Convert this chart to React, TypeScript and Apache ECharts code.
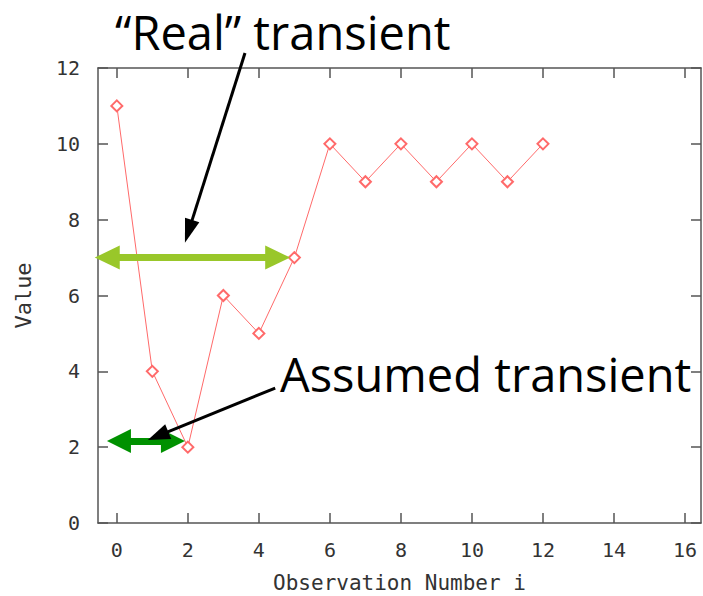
import React, { useEffect, useRef } from "react";
import * as echarts from "echarts";

const obsIndex = [0, 1, 2, 3, 4, 5, 6, 7, 8, 9, 10, 11, 12];
const obsValues = [11, 4, 2, 6, 5, 7, 10, 9, 10, 9, 10, 9, 10];
const xTicks = [0, 2, 4, 6, 8, 10, 12, 14, 16];
const yTicks = [0, 2, 4, 6, 8, 10, 12];

const xTitle = "Observation Number i";
const yTitle = "Value";
const realLabel = "\u201CReal\u201D transient";
const assumedLabel = "Assumed transient";

// arrows in data coordinates: [fromX, fromY, toX, toY]
const realArrow = [-0.27, 7, 4.53, 7];
const assumedArrow = [0.06, 2.16, 1.58, 2.16];
const realPointerHead = [2.02, 7.69];
const assumedPointer = [4.46, 3.56, 1.16, 2.3];

const monoFont = "DejaVu Sans Mono";
const axisColor = "#555";

export default function App() {
  const ref = useRef<HTMLDivElement>(null);

  useEffect(() => {
    if (!ref.current) return;
    const chart = echarts.init(ref.current, undefined, { renderer: "svg" });

    const axisCommon = {
      type: "value",
      splitLine: { show: false },
      axisLine: { show: true, onZero: false, lineStyle: { color: axisColor, width: 1.5 } },
    };
    const tickStyle = { color: axisColor, width: 1.5 };

    const doubleArrow = (a: number[], color: string, w: number, head: number[]) => [
      { coord: [a[0], a[1]], symbol: "triangle", symbolSize: head, lineStyle: { color, width: w, type: "solid" } },
      { coord: [a[2], a[3]], symbol: "triangle", symbolSize: head },
    ];
    const singleArrow = (a: number[], color: string, w: number, head: number[]) => [
      { coord: [a[0], a[1]], symbol: "none", lineStyle: { color, width: w, type: "solid" } },
      { coord: [a[2], a[3]], symbol: "triangle", symbolSize: head },
    ];

    const xMin = -0.53;
    const xMax = 16.45;

    chart.setOption({
      animation: false,
      backgroundColor: "#fff",
      grid: { left: 98, top: 68, right: 2, bottom: 73, containLabel: false, outerBoundsMode: "none" },
      xAxis: [
        {
          ...axisCommon,
          position: "bottom",
          min: xMin,
          max: xMax,
          axisTick: { show: true, inside: true, length: 10, customValues: xTicks, lineStyle: tickStyle },
          axisLabel: {
            margin: 17,
            fontFamily: monoFont,
            fontSize: 20,
            color: "#333",
            customValues: xTicks,
          },
          name: xTitle,
          nameLocation: "middle",
          nameGap: 49,
          nameTextStyle: { fontFamily: monoFont, fontSize: 21, color: "#333" },
        },
        {
          ...axisCommon,
          position: "top",
          min: xMin,
          max: xMax,
          axisTick: { show: true, inside: true, length: 10, customValues: xTicks, lineStyle: tickStyle },
          axisLabel: { show: false },
        },
      ],
      yAxis: [
        {
          ...axisCommon,
          position: "left",
          min: 0,
          max: 12,
          axisTick: { show: true, inside: true, length: 10, customValues: yTicks, lineStyle: tickStyle },
          axisLabel: { margin: 18, fontFamily: monoFont, fontSize: 20, color: "#333", customValues: yTicks },
          name: yTitle,
          nameLocation: "middle",
          nameGap: 64,
          nameTextStyle: { fontFamily: monoFont, fontSize: 22, color: "#333" },
        },
        {
          ...axisCommon,
          position: "right",
          min: 0,
          max: 12,
          axisTick: { show: true, inside: true, length: 10, customValues: yTicks, lineStyle: tickStyle },
          axisLabel: { show: false },
        },
      ],
      series: [
        {
          type: "line",
          xAxisIndex: 0,
          yAxisIndex: 0,
          clip: false,
          data: obsIndex.map((x, i) => [x, obsValues[i]]),
          symbol: "emptyDiamond",
          symbolSize: 11,
          lineStyle: { color: "#ff6a6a", width: 1 },
          itemStyle: { color: "#ff6a6a", borderWidth: 1 },
          markLine: {
            silent: true,
            animation: false,
            label: { show: false },
            emphasis: { disabled: true },
            data: [
              doubleArrow(realArrow, "#99c72a", 7, [24, 25]),
              doubleArrow(assumedArrow, "#009100", 7, [24, 24]),
              [
                { x: 245, y: 53, symbol: "none", lineStyle: { color: "#000", width: 3, type: "solid" } },
                { coord: realPointerHead, symbol: "triangle", symbolSize: [15, 24] },
              ],
              singleArrow(assumedPointer, "#000", 3, [16, 22]),
            ],
          },
          z: 3,
        },
      ],
      graphic: [
        {
          type: "text",
          x: 115,
          y: 32,
          style: {
            text: realLabel,
            fontFamily: "Open Sans",
            fontSize: 47,
            fill: "#000",
            textAlign: "left",
            textVerticalAlign: "middle",
          },
          z: 10,
        },
        {
          type: "text",
          x: 280,
          y: 374,
          style: {
            text: assumedLabel,
            fontFamily: "Open Sans",
            fontSize: 47,
            fill: "#000",
            textAlign: "left",
            textVerticalAlign: "middle",
          },
          z: 10,
        },
      ],
    });

    return () => chart.dispose();
  }, []);

  return <div ref={ref} style={{ width: 703, height: 596, position: "absolute", left: 0, top: 0 }} />;
}
